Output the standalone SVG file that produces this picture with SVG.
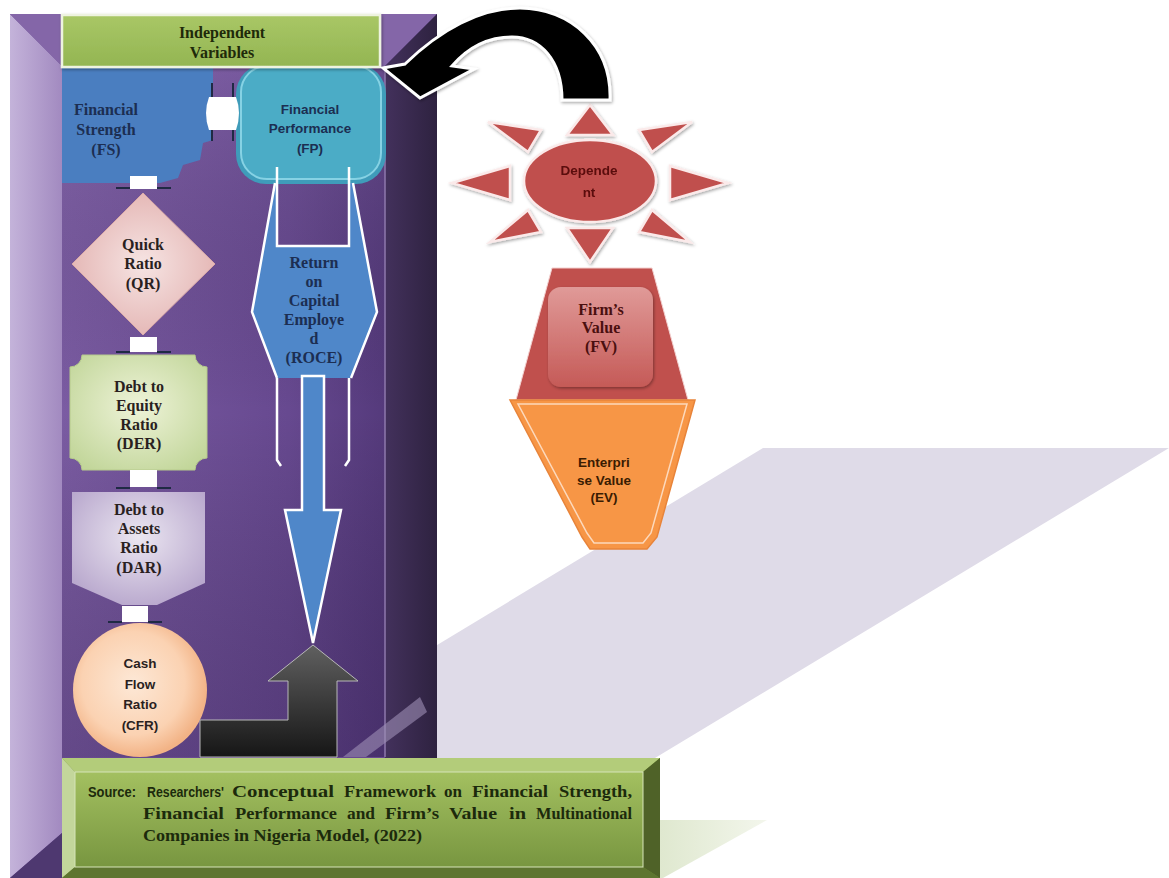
<svg xmlns="http://www.w3.org/2000/svg" width="1169" height="878" viewBox="0 0 1169 878">
<defs>
<linearGradient id="gFace" x1="0" y1="0" x2="1" y2="0"><stop offset="0" stop-color="#7b5ca3"/><stop offset="0.7" stop-color="#674990"/><stop offset="1" stop-color="#553a7c"/></linearGradient>
<linearGradient id="gFaceV" x1="0" y1="0" x2="0" y2="1"><stop offset="0" stop-color="#a080c0" stop-opacity="0.25"/><stop offset="0.5" stop-color="#000" stop-opacity="0"/><stop offset="1" stop-color="#20103a" stop-opacity="0.25"/></linearGradient>
<linearGradient id="gLeft" x1="0" y1="0" x2="1" y2="0"><stop offset="0" stop-color="#c4b3da"/><stop offset="1" stop-color="#a28ac0"/></linearGradient>
<linearGradient id="gRight" x1="0" y1="0" x2="1" y2="0"><stop offset="0" stop-color="#43315c"/><stop offset="1" stop-color="#2e2240"/></linearGradient>
<linearGradient id="gIV" x1="0" y1="0" x2="0" y2="1"><stop offset="0" stop-color="#a9c766"/><stop offset="1" stop-color="#93b552"/></linearGradient>
<radialGradient id="gQR" cx="0.5" cy="0.5" r="0.6"><stop offset="0" stop-color="#f6e4e3"/><stop offset="1" stop-color="#e2b0ae"/></radialGradient>
<radialGradient id="gDER" cx="0.5" cy="0.45" r="0.65"><stop offset="0" stop-color="#eef3d8"/><stop offset="1" stop-color="#c2d69a"/></radialGradient>
<radialGradient id="gDAR" cx="0.5" cy="0.4" r="0.65"><stop offset="0" stop-color="#ebe6f1"/><stop offset="1" stop-color="#b7a6cc"/></radialGradient>
<radialGradient id="gCFR" cx="0.45" cy="0.45" r="0.55"><stop offset="0" stop-color="#fde8d6"/><stop offset="0.7" stop-color="#fbd2b2"/><stop offset="1" stop-color="#f2b386"/></radialGradient>
<linearGradient id="gGray" x1="0" y1="0" x2="0" y2="1"><stop offset="0" stop-color="#606060"/><stop offset="1" stop-color="#161616"/></linearGradient>
<linearGradient id="gFV" x1="0" y1="0" x2="0" y2="1"><stop offset="0" stop-color="#e09a98"/><stop offset="1" stop-color="#c55a57"/></linearGradient>
<linearGradient id="gSrc" x1="0" y1="0" x2="0" y2="1"><stop offset="0" stop-color="#a3c060"/><stop offset="1" stop-color="#789640"/></linearGradient>
<linearGradient id="gStrip" x1="0" y1="0" x2="1" y2="0"><stop offset="0" stop-color="#dfe8cf"/><stop offset="1" stop-color="#f3f6ec"/></linearGradient>
<filter id="sh" x="-20%" y="-20%" width="140%" height="140%"><feDropShadow dx="1" dy="1.5" stdDeviation="1.5" flood-color="#000" flood-opacity="0.35"/></filter>
</defs>
<style>
.serif{font-family:"Liberation Serif","Times New Roman",serif;font-weight:bold;text-anchor:middle;font-size:16px}
.sans{font-family:"Liberation Sans",Arial,sans-serif;font-weight:bold;text-anchor:middle;font-size:13.5px}
.navy{fill:#1c2e52}
.dark{fill:#2a1f1f}
.wl{stroke:#ffffff;stroke-width:2.5}
.conn{fill:#ffffff}
.tick{stroke:#1f2a44;stroke-width:2;fill:none}
.ray{fill:#c0504d;stroke:#fbeaea;stroke-width:2.5}
.src{font-family:"Liberation Serif","Times New Roman",serif;font-weight:bold;font-size:16px;fill:#1c2a0c}
.srcs{font-family:"Liberation Sans",Arial,sans-serif;font-weight:bold;font-size:14px;fill:#1c2a0c}
</style>

<g id="background">
<polygon points="763,448 1169,448 655,758 250,758" fill="#dfdbe8"/>
<polygon points="660,820 767,820 663,878 660,878" fill="url(#gStrip)"/>
</g>

<g id="panel">
<rect x="10" y="14" width="427" height="864" fill="#674990"/>
<polygon points="10,14 62,66 62,833 10,878" fill="url(#gLeft)"/>
<polygon points="10,14 437,14 385,66 62,66" fill="#8466a8"/>
<polygon points="437,14 437,878 385,830 385,66" fill="url(#gRight)"/>
<polygon points="10,878 62,833 62,878" fill="#4e3870"/>
<rect x="62" y="66" width="323" height="691" fill="url(#gFace)"/>
<rect x="62" y="66" width="323" height="691" fill="url(#gFaceV)"/>
<line x1="385" y1="66" x2="385" y2="757" stroke="#8e78ad" stroke-width="1.5"/>
<polygon points="343,757 366,757 427,712 420,697" fill="#9f90b6" opacity="0.6"/>
</g>

<g id="node-fs">
<polygon points="62,66 213,66 213,140 203,143 200,160 183,165 178,178 160,183 62,183" fill="#4a7ec0"/>
<text class="serif navy" x="106" y="115">Financial</text>
<text class="serif navy" x="106" y="135">Strength</text>
<text class="serif navy" x="106" y="155">(FS)</text>
</g>

<g id="node-fp">
<rect x="236" y="64" width="150" height="120" rx="30" fill="#3f9cba"/>
<rect x="241" y="66" width="140" height="113" rx="26" fill="#4bacc6" stroke="#86d2e4" stroke-width="2"/>
<text class="sans navy" x="310" y="114">Financial</text>
<text class="sans navy" x="310" y="133">Performance</text>
<text class="sans navy" x="310" y="153">(FP)</text>
</g>

<g id="node-independent">
<rect x="62" y="15" width="318" height="52" fill="url(#gIV)" stroke="#eef3e0" stroke-width="2.5" filter="url(#sh)"/>
<text class="serif" x="222" y="38" fill="#1f2a0a">Independent</text>
<text class="serif" x="222" y="58" fill="#1f2a0a">Variables</text>
</g>

<g id="node-qr">
<polygon points="143,193 215,264 143,335 72,264" fill="url(#gQR)" stroke="#d9a9a7" stroke-width="1"/>
<text class="serif dark" x="143" y="250">Quick</text>
<text class="serif dark" x="143" y="269">Ratio</text>
<text class="serif dark" x="143" y="289">(QR)</text>
</g>

<g id="node-der">
<path d="M82,355 L195,355 A12,12 0 0 0 207,367 L207,458 A12,12 0 0 0 195,470 L82,470 A12,12 0 0 0 70,458 L70,367 A12,12 0 0 0 82,355 Z" fill="url(#gDER)" stroke="#b6ca8c" stroke-width="1"/>
<text class="serif dark" x="139" y="392">Debt to</text>
<text class="serif dark" x="139" y="411">Equity</text>
<text class="serif dark" x="139" y="430">Ratio</text>
<text class="serif dark" x="139" y="449">(DER)</text>
</g>

<g id="node-dar">
<polygon points="72,492 205,492 205,583 157,605 122,605 72,583" fill="url(#gDAR)"/>
<text class="serif dark" x="139" y="515">Debt to</text>
<text class="serif dark" x="139" y="534">Assets</text>
<text class="serif dark" x="139" y="553">Ratio</text>
<text class="serif dark" x="139" y="573">(DAR)</text>
</g>

<g id="node-cfr">
<circle cx="140" cy="690" r="67" fill="url(#gCFR)"/>
<text class="sans dark" x="140" y="668">Cash</text>
<text class="sans dark" x="140" y="689">Flow</text>
<text class="sans dark" x="140" y="709">Ratio</text>
<text class="sans dark" x="140" y="730">(CFR)</text>
</g>

<g id="node-roce">
<path d="M275,183 L353,183 L377,312 L351,378 L277,378 L252,312 Z M278,183 L278,246 L349,246 L349,183 Z" fill="#4f87c9" fill-rule="evenodd"/>
<path d="M275,183 L252,312 L277,378 M353,183 L377,312 L351,378" class="wl" fill="none"/>
<path d="M277,167 L277,246 L349,246 L349,167" class="wl" fill="none"/>
<path d="M277,378 L277,460 L281,466 M349,378 L349,460 L345,466" class="wl" fill="none"/>
<polygon points="302,376 324,376 324,510 341,510 313,643 285,510 302,510" fill="#4f87c9" class="wl"/>
<text class="serif navy" x="314" y="268">Return</text>
<text class="serif navy" x="314" y="287">on</text>
<text class="serif navy" x="314" y="306">Capital</text>
<text class="serif navy" x="314" y="325">Employe</text>
<text class="serif navy" x="314" y="344">d</text>
<text class="serif navy" x="314" y="363">(ROCE)</text>
</g>

<g id="node-dependent" filter="url(#sh)">
<polygon class="ray" points="567,135 613,135 590,105"/>
<polygon class="ray" points="567,228 613,228 590,262"/>
<polygon class="ray" points="510,166 510,200 452,183"/>
<polygon class="ray" points="670,166 670,200 728,183"/>
<polygon class="ray" points="541,130 528,152 488,122"/>
<polygon class="ray" points="639,130 652,152 692,122"/>
<polygon class="ray" points="528,210 541,232 490,242"/>
<polygon class="ray" points="652,210 639,232 690,242"/>
<ellipse cx="590" cy="181" rx="66" ry="41" fill="#c0504d" stroke="#fbeaea" stroke-width="2.5"/>
<text class="sans" x="589" y="175" fill="#5a0c0c">Depende</text>
<text class="sans" x="589" y="197" fill="#5a0c0c">nt</text>
</g>

<g id="node-fv">
<polygon points="552,268 652,268 688,400 516,400" fill="#c0504d" stroke="#f3d0cf" stroke-width="1"/>
<rect x="548" y="287" width="105" height="100" rx="13" fill="url(#gFV)" filter="url(#sh)"/>
<text class="serif" x="601" y="315" fill="#4a0f0f">Firm’s</text>
<text class="serif" x="601" y="333" fill="#4a0f0f">Value</text>
<text class="serif" x="601" y="352" fill="#4a0f0f">(FV)</text>
</g>

<g id="node-ev">
<polygon points="510,400 695,400 657,537 647,549 590,549 582,537" fill="#f79646" stroke="#e8843a" stroke-width="1.5"/>
<polygon points="518,404 687,404 651,533 643,543 594,543 587,533" fill="none" stroke="#fdd9bc" stroke-width="1.5"/>
<text class="sans" x="604" y="467" fill="#3a1c02" font-size="14">Enterpri</text>
<text class="sans" x="604" y="485" fill="#3a1c02" font-size="14">se Value</text>
<text class="sans" x="604" y="502" fill="#3a1c02" font-size="14">(EV)</text>
</g>

<g id="connectors">
<rect class="conn" x="130" y="176" width="27" height="13"/>
<path class="tick" d="M116,188 L130,188 M157,188 L171,188"/>
<rect class="conn" x="130" y="337" width="27" height="15"/>
<path class="tick" d="M116,352 L130,352 M157,352 L171,352"/>
<rect class="conn" x="130" y="470" width="27" height="17"/>
<path class="tick" d="M116,488 L130,488 M157,488 L171,488"/>
<rect class="conn" x="122" y="606" width="26" height="16"/>
<path class="tick" d="M108,622 L122,622 M148,622 L162,622"/>
<path d="M209,97 L236,97 Q242,113 236,130 L209,130 Q203,113 209,97 Z" fill="#ffffff"/>
<path class="tick" d="M212,83 L212,97 M233,83 L233,97 M212,130 L212,141 M233,130 L233,141"/>
<polygon points="200,720 288,720 288,681 268,681 313,645 358,681 337,681 337,757 200,757" fill="url(#gGray)" stroke="#b8b8b8" stroke-width="1"/>
<path d="M610,100 C612,45 570,8 520,8 C480,8 440,30 405,64 L383,68 L420,98 L474,69 L452,66 C470,45 490,37 512,37 C540,37 562,60 562,100 Z" fill="#000000" stroke="#ffffff" stroke-width="3" filter="url(#sh)"/>
</g>

<g id="node-source">
<rect x="62" y="758" width="598" height="120" fill="#6f8a36"/>
<polygon points="62,758 660,758 643,772 75,772" fill="#b3cc7a"/>
<polygon points="62,758 75,772 75,867 62,878" fill="#c3d69b"/>
<polygon points="660,758 660,878 643,867 643,772" fill="#4f6228"/>
<polygon points="62,878 75,867 643,867 660,878" fill="#5e7530"/>
<rect x="75" y="772" width="568" height="95" fill="url(#gSrc)" stroke="#d6e4b8" stroke-width="1"/>
<text class="srcs" x="88" y="797" textLength="48" lengthAdjust="spacingAndGlyphs">Source:</text>
<text class="srcs" x="147" y="797" textLength="77" lengthAdjust="spacingAndGlyphs">Researchers'</text>
<text class="src" x="232" y="797" textLength="102" lengthAdjust="spacingAndGlyphs">Conceptual</text>
<text class="src" x="344" y="797" textLength="92" lengthAdjust="spacingAndGlyphs">Framework</text>
<text class="src" x="444" y="797" textLength="18" lengthAdjust="spacingAndGlyphs">on</text>
<text class="src" x="472" y="797" textLength="76" lengthAdjust="spacingAndGlyphs">Financial</text>
<text class="src" x="559" y="797" textLength="73" lengthAdjust="spacingAndGlyphs">Strength,</text>
<text class="src" x="143" y="819" textLength="81" lengthAdjust="spacingAndGlyphs">Financial</text>
<text class="src" x="235" y="819" textLength="102" lengthAdjust="spacingAndGlyphs">Performance</text>
<text class="src" x="347" y="819" textLength="28" lengthAdjust="spacingAndGlyphs">and</text>
<text class="src" x="385" y="819" textLength="54" lengthAdjust="spacingAndGlyphs">Firm’s</text>
<text class="src" x="449" y="819" textLength="48" lengthAdjust="spacingAndGlyphs">Value</text>
<text class="src" x="509" y="819" textLength="17" lengthAdjust="spacingAndGlyphs">in</text>
<text class="src" x="536" y="819" textLength="96" lengthAdjust="spacingAndGlyphs">Multinational</text>
<text class="src" x="143" y="841" textLength="279" lengthAdjust="spacingAndGlyphs">Companies in Nigeria Model, (2022)</text>
</g>
</svg>
